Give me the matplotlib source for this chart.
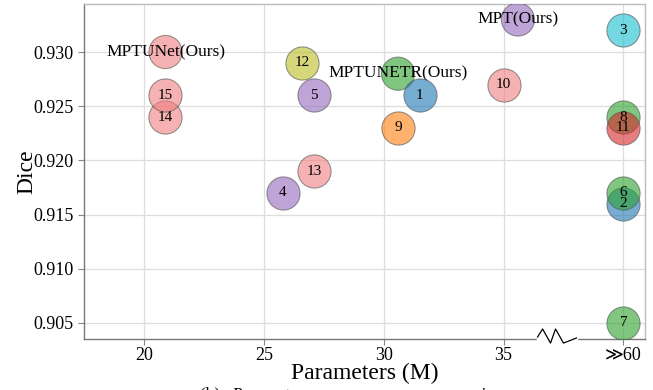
import numpy as np
import matplotlib
matplotlib.use("Agg")
import matplotlib.pyplot as plt
import matplotlib.transforms as mtransforms

plt.rcParams["font.family"] = ["Liberation Serif", "DejaVu Serif", "DejaVu Sans"]

# numbered methods (">>60" parameters are plotted at x = 40)
labels = ["1", "2", "3", "4", "5", "6", "7", "8", "9", "10", "11", "12", "13", "14", "15"]
params = [31.5, 40, 40, 25.8, 27.1, 40, 40, 40, 30.6, 35.0, 40, 26.6, 27.1, 20.9, 20.9]
dice = [0.926, 0.916, 0.932, 0.917, 0.926, 0.917, 0.905, 0.924, 0.923, 0.927, 0.923, 0.929, 0.919, 0.924, 0.926]
colors = ["tab:blue", "tab:blue", "tab:cyan", "tab:purple", "tab:purple", "tab:green", "tab:green",
          "tab:green", "tab:orange", "lightcoral", "tab:red", "tab:olive", "lightcoral", "lightcoral", "lightcoral"]

# our methods
ours_labels = ["MPTUNet(Ours)", "MPTUNETR(Ours)", "MPT(Ours)"]
ours_params = [20.9, 30.6, 35.6]
ours_dice = [0.930, 0.928, 0.933]
ours_colors = ["lightcoral", "tab:green", "tab:purple"]

xticks = [20, 25, 30, 35, 40]
xticklabels = ["20", "25", "30", "35", "\u226b60"]
yticks = [0.905, 0.910, 0.915, 0.920, 0.925, 0.930]


def main():
    fig = plt.figure(figsize=(6.53, 3.90), dpi=100)
    ax = fig.add_axes([0.1286, 0.1315, 0.8591, 0.8582])

    ax.scatter(ours_params, ours_dice, s=570, c=ours_colors, alpha=0.6,
               edgecolors="#555555", linewidths=0.8, zorder=3)
    for x, y, t in zip(ours_params, ours_dice, ours_labels):
        ax.text(x, y, t, ha="center", va="center", fontsize=12.5, zorder=5)

    for x, y, c, t in zip(params, dice, colors, labels):
        ax.scatter(x, y, s=570, c=c, alpha=0.6, edgecolors="#555555", linewidths=0.8, zorder=3)
        ax.text(x, y, t, ha="center", va="center", fontsize=11, zorder=4)

    ax.set_xlim(17.5, 40.9)
    ax.set_ylim(0.90355, 0.93443)
    ax.set_xticks(xticks)
    ax.set_xticklabels(xticklabels)
    ax.set_yticks(yticks)
    ax.set_yticklabels(["%.3f" % v for v in yticks])
    ax.tick_params(labelsize=13, color="#888888", length=4, width=0.8)
    ax.tick_params(axis="x", pad=2)
    ax.grid(True, color="#dddddd", linewidth=0.9)
    ax.set_axisbelow(True)
    for side in ["left", "bottom"]:
        ax.spines[side].set_color("#777777")
        ax.spines[side].set_linewidth(1.0)
    for side in ["top", "right"]:
        ax.spines[side].set_color("#bbbbbb")
        ax.spines[side].set_linewidth(1.0)

    ax.set_xlabel("Parameters (M)", fontsize=17, labelpad=-1)
    ax.set_ylabel("Dice", fontsize=17, labelpad=-3)

    # axis break mark between 35 and >>60
    trans = mtransforms.blended_transform_factory(ax.transData, ax.transAxes)
    ax.plot([36.42, 38.04], [0, 0], color="white", linewidth=2.5, transform=trans,
            clip_on=False, zorder=6)
    ax.plot([36.42, 36.63, 36.96, 37.17, 37.5, 38.04], [0.005, 0.029, -0.013, 0.029, -0.013, 0.002],
            color="black", linewidth=0.9, transform=trans, clip_on=False, zorder=7)

    # caption, mostly cut off at the bottom edge
    fig.text(200 / 653, -0.024, "(b)   Parameters versus accuracy comparison", fontsize=12.5,
             ha="left", va="baseline")

    fig.savefig("out.png", dpi=100)


if __name__ == "__main__":
    main()
